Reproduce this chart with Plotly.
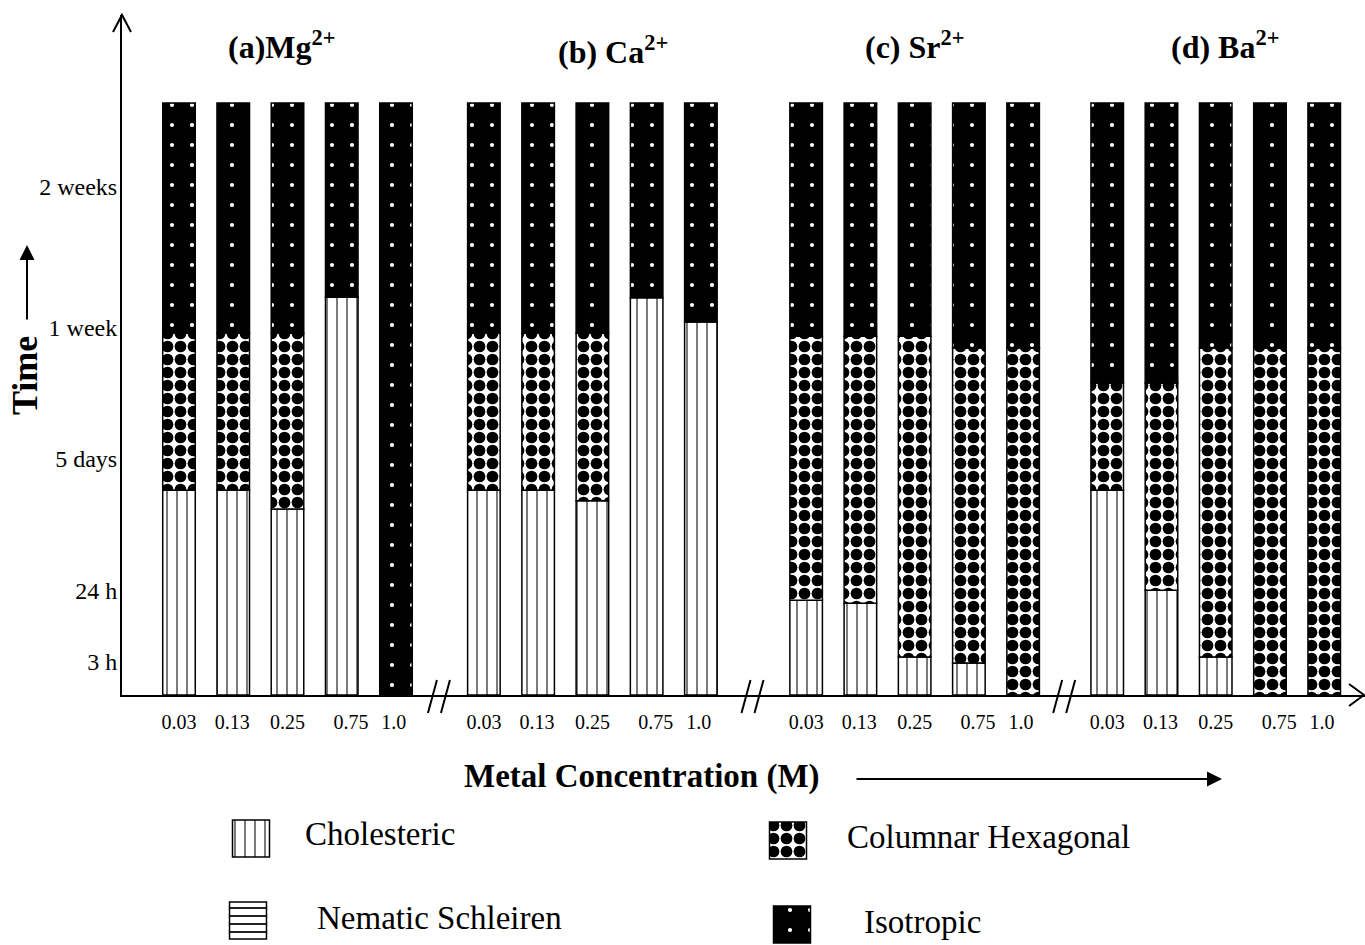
import plotly.graph_objects as go

W, H = 1365, 945
FONT = "Liberation Serif"

# ---------------- data ----------------
GROUP_TITLES = ["(a)Mg<sup>2+</sup>", "(b) Ca<sup>2+</sup>", "(c) Sr<sup>2+</sup>", "(d) Ba<sup>2+</sup>"]
CONC_LABELS = ["0.03", "0.13", "0.25", "0.75", "1.0"]

TIME_TICK_VALUES = [5.6, 17.6, 39.9, 62.0, 85.8]
TIME_TICK_LABELS = ["3 h", "24 h", "5 days", "1 week", "2 weeks"]
END_TIME = 100

# upper boundary of the cholesteric phase (time-axis units)
MG_CHOL_TOP = [34.6, 34.6, 31.4, 67.2, 0]
CA_CHOL_TOP = [34.6, 34.6, 32.8, 67.1, 63.0]
SR_CHOL_TOP = [16.0, 15.5, 6.4, 5.4, 0]
BA_CHOL_TOP = [34.6, 17.7, 6.4, 0, 0]
# upper boundary of the columnar hexagonal phase (isotropic above)
MG_COLHEX_TOP = [61.1, 61.1, 61.1, 67.2, 0]
CA_COLHEX_TOP = [61.1, 61.1, 61.1, 67.1, 63.0]
SR_COLHEX_TOP = [60.6, 60.6, 60.6, 58.6, 58.6]
BA_COLHEX_TOP = [52.7, 52.7, 58.6, 58.6, 58.6]

CHOL_TOPS = [MG_CHOL_TOP, CA_CHOL_TOP, SR_CHOL_TOP, BA_CHOL_TOP]
COLHEX_TOPS = [MG_COLHEX_TOP, CA_COLHEX_TOP, SR_COLHEX_TOP, BA_COLHEX_TOP]

LEGEND_LABELS = ["Cholesteric", "Nematic Schleiren", "Columnar Hexagonal", "Isotropic"]

# ---------------- layout constants ----------------
GROUP_START = [0, 5.62, 11.56, 17.11]   # slot position of first bar in each group
TICK_SHIFT = [0, -0.02, 0, 0.17, -0.04]  # small label offsets within each group
BAR_WIDTH = 0.6
UNIT_PX = 54.25
AX_LEFT, AX_BOTTOM, AX_TOP = 122, 695, 15
FIRST_BAR_PX = 179
PX_PER_TIME = 5.92


def pxx(x):
    return x / W


def pyy(y):
    return 1 - y / H


PATTERNS = {
    "Cholesteric": dict(color="white", pattern=dict(shape="|", fgcolor="#333", bgcolor="white",
                                                   size=10, solidity=0.13, fillmode="replace")),
    "Nematic Schleiren": dict(color="white", pattern=dict(shape="-", fgcolor="#222", bgcolor="white",
                                                         size=8, solidity=0.25, fillmode="replace")),
    "Columnar Hexagonal": dict(color="white", pattern=dict(shape=".", fgcolor="black", bgcolor="white",
                                                          size=13, solidity=0.64, fillmode="replace")),
    "Isotropic": dict(color="black", pattern=dict(shape=".", fgcolor="white", bgcolor="black",
                                                 size=20, solidity=0.035, fillmode="replace")),
}

xs, chol_base, chol_h, col_base, col_h, iso_base, iso_h = [], [], [], [], [], [], []
for g in range(4):
    for i in range(len(CONC_LABELS)):
        c = CHOL_TOPS[g][i]
        h = COLHEX_TOPS[g][i]
        xs.append(GROUP_START[g] + i)
        chol_base.append(0)
        chol_h.append(c if c > 0 else None)
        col_base.append(c)
        col_h.append(h - c if h - c > 0 else None)
        iso_base.append(h)
        iso_h.append(END_TIME - h)

fig = go.Figure()
for name, base, hts in [("Cholesteric", chol_base, chol_h),
                        ("Columnar Hexagonal", col_base, col_h),
                        ("Isotropic", iso_base, iso_h)]:
    st = PATTERNS[name]
    fig.add_trace(go.Bar(
        x=xs, y=hts, base=base, width=BAR_WIDTH, name=name, showlegend=False,
        marker=dict(color=st["color"], pattern=st["pattern"], line=dict(color="black", width=1.5)),
        hoverinfo="skip",
    ))

# legend swatches drawn on a full-page overlay axis (pixel units)
SW_X = [251, 248, 788, 792]
SW_Y = [820, 902, 822, 906]
SW_SIZE = 37
TXT_X = [303, 315, 845, 862]
TXT_Y = [834, 918, 837, 922]
for k, lab in enumerate(LEGEND_LABELS):
    st = PATTERNS[lab]
    fig.add_trace(go.Bar(
        x=[SW_X[k]], y=[SW_SIZE], base=[SW_Y[k]], width=SW_SIZE, xaxis="x2", yaxis="y2",
        showlegend=False, hoverinfo="skip",
        marker=dict(color=st["color"], pattern=st["pattern"], line=dict(color="black", width=1.5)),
    ))

x_lo = -(FIRST_BAR_PX - AX_LEFT) / UNIT_PX
x_hi = x_lo + (W - AX_LEFT) / UNIT_PX
y_hi = (AX_BOTTOM - AX_TOP) / PX_PER_TIME

tickvals = [GROUP_START[g] + i + TICK_SHIFT[i] for g in range(4) for i in range(len(CONC_LABELS))]
ticktext = CONC_LABELS * 4

fig.update_layout(
    width=W, height=H, margin=dict(l=0, r=0, t=0, b=0),
    paper_bgcolor="white", plot_bgcolor="rgba(0,0,0,0)",
    barmode="overlay", showlegend=False,
    font=dict(family=FONT, color="black"),
    xaxis=dict(domain=[pxx(AX_LEFT), 1], range=[x_lo, x_hi], showgrid=False, zeroline=False,
               showline=True, linecolor="black", linewidth=2,
               tickmode="array", tickvals=tickvals, ticktext=ticktext, ticks="",
               tickfont=dict(size=20, family=FONT), ticklabelstandoff=8, fixedrange=True),
    yaxis=dict(domain=[pyy(AX_BOTTOM), pyy(AX_TOP)], range=[0, y_hi], showgrid=False, zeroline=False,
               showline=True, linecolor="black", linewidth=2,
               tickmode="array", tickvals=TIME_TICK_VALUES, ticktext=TIME_TICK_LABELS, ticks="",
               tickfont=dict(size=24, family=FONT), ticklabelstandoff=-2, fixedrange=True),
    xaxis2=dict(domain=[0, 1], range=[0, W], anchor="y2", visible=False, fixedrange=True),
    yaxis2=dict(domain=[0, 1], range=[H, 0], anchor="x2", visible=False, fixedrange=True),
)

shapes = []
# axis arrowheads (open chevrons)
shapes.append(dict(type="path", xref="paper", yref="paper",
                   path=f"M{pxx(113)},{pyy(32)} L{pxx(122)},{pyy(15)} L{pxx(131)},{pyy(32)}",
                   line=dict(color="black", width=2)))
shapes.append(dict(type="path", xref="paper", yref="paper",
                   path=f"M{pxx(1349)},{pyy(684)} L{pxx(1364)},{pyy(695)} L{pxx(1349)},{pyy(706)}",
                   line=dict(color="black", width=2)))
# axis break marks between groups
for g in range(3):
    mid = (GROUP_START[g] + len(CONC_LABELS) - 1 + GROUP_START[g + 1]) / 2
    for off in (-12, 1):
        shapes.append(dict(type="line", xref="x", yref="paper", xsizemode="pixel", ysizemode="pixel",
                           xanchor=mid, yanchor=pyy(AX_BOTTOM), x0=off, x1=off + 9, y0=-18, y1=15,
                           line=dict(color="black", width=2)))
fig.update_layout(shapes=shapes)

ann = []
TITLE_SHIFT = [-6, 21, 0, 9]
TITLE_Y = [45, 50, 45, 45]
for g, t in enumerate(GROUP_TITLES):
    ann.append(dict(text=f"<b>{t}</b>", x=GROUP_START[g] + 2, xref="x", y=pyy(TITLE_Y[g]), yref="paper",
                    xshift=TITLE_SHIFT[g], xanchor="center", yanchor="middle", showarrow=False,
                    font=dict(size=32, family=FONT)))
ann.append(dict(text="<b>Time</b>", x=pxx(25), y=pyy(376), xref="paper", yref="paper", textangle=-90,
                xanchor="center", yanchor="middle", showarrow=False, font=dict(size=36, family=FONT)))
ann.append(dict(text="", x=pxx(27), y=pyy(245), xref="paper", yref="paper", ax=0, ay=76,
                showarrow=True, arrowhead=2, arrowsize=1.5, arrowwidth=2, arrowcolor="black"))
ann.append(dict(text="<b>Metal Concentration (M)</b>", x=pxx(642), y=pyy(776), xref="paper", yref="paper",
                xanchor="center", yanchor="middle", showarrow=False, font=dict(size=33, family=FONT)))
ann.append(dict(text="", x=pxx(1222), y=pyy(779), xref="paper", yref="paper", ax=-367, ay=0,
                showarrow=True, arrowhead=2, arrowsize=1.5, arrowwidth=2, arrowcolor="black"))
for k, lab in enumerate(LEGEND_LABELS):
    ann.append(dict(text=lab, x=pxx(TXT_X[k]), y=pyy(TXT_Y[k]), xref="paper", yref="paper",
                    xanchor="left", yanchor="middle", showarrow=False, font=dict(size=33, family=FONT)))
fig.update_layout(annotations=ann)

fig.write_html("out.html")
